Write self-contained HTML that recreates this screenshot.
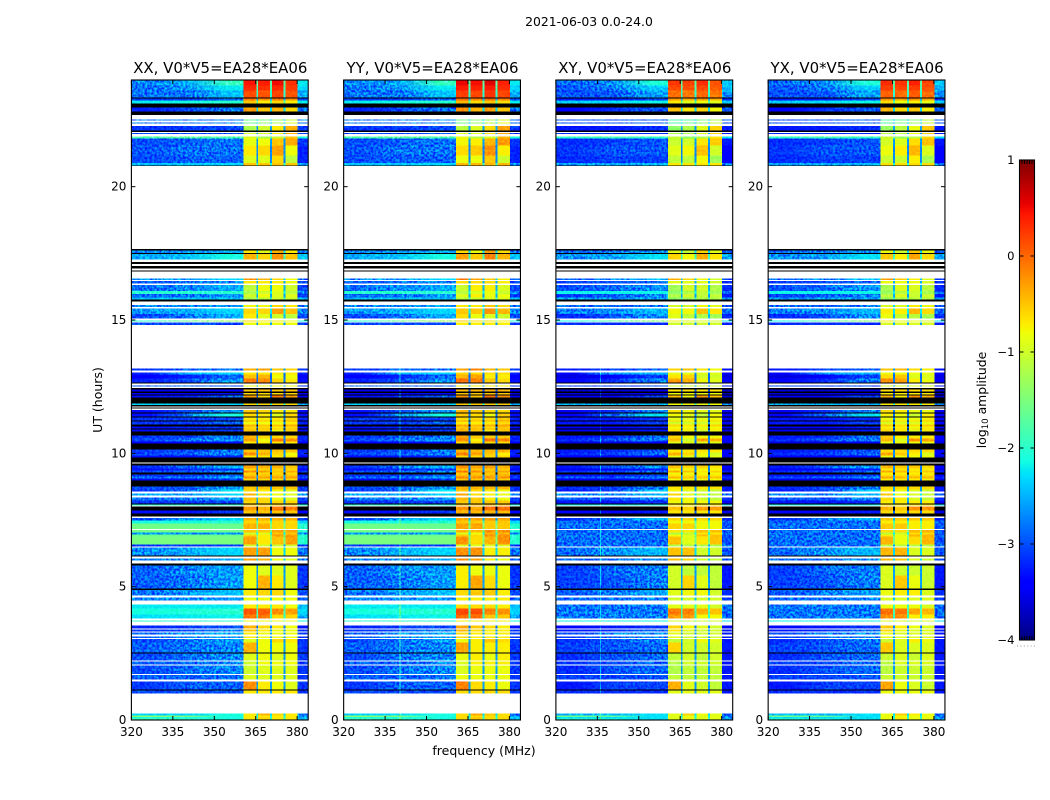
<!DOCTYPE html>
<html lang="en">
<head>
<meta charset="utf-8">
<title>2021-06-03 0.0-24.0</title>
<style>
html,body{margin:0;padding:0;background:#fff;width:1050px;height:800px;overflow:hidden}
svg{display:block}
text{font-family:"DejaVu Sans","Liberation Sans",sans-serif;fill:#000}
.speckle{mix-blend-mode:overlay}
</style>
</head>
<body>
<svg id="chart" xmlns="http://www.w3.org/2000/svg" width="1050" height="800" viewBox="0 0 1050 800">
<rect x="0" y="0" width="1050" height="800" fill="#fff"/>
<defs id="chart-defs">
<filter id="speckle-0" x="0" y="0" width="100%" height="100%" color-interpolation-filters="sRGB"><feTurbulence type="fractalNoise" baseFrequency="0.42" numOctaves="2" seed="3"/><feColorMatrix type="matrix" values="2.4 0 0 0 -0.7  2.4 0 0 0 -0.7  2.4 0 0 0 -0.7  0 0 0 0 1"/></filter>
<filter id="speckle-1" x="0" y="0" width="100%" height="100%" color-interpolation-filters="sRGB"><feTurbulence type="fractalNoise" baseFrequency="0.42" numOctaves="2" seed="11"/><feColorMatrix type="matrix" values="2.4 0 0 0 -0.7  2.4 0 0 0 -0.7  2.4 0 0 0 -0.7  0 0 0 0 1"/></filter>
<filter id="speckle-2" x="0" y="0" width="100%" height="100%" color-interpolation-filters="sRGB"><feTurbulence type="fractalNoise" baseFrequency="0.42" numOctaves="2" seed="23"/><feColorMatrix type="matrix" values="2.4 0 0 0 -0.7  2.4 0 0 0 -0.7  2.4 0 0 0 -0.7  0 0 0 0 1"/></filter>
<filter id="speckle-3" x="0" y="0" width="100%" height="100%" color-interpolation-filters="sRGB"><feTurbulence type="fractalNoise" baseFrequency="0.42" numOctaves="2" seed="37"/><feColorMatrix type="matrix" values="2.4 0 0 0 -0.7  2.4 0 0 0 -0.7  2.4 0 0 0 -0.7  0 0 0 0 1"/></filter>
</defs>
<text x="589" y="26" text-anchor="middle" font-size="12.4">2021-06-03 0.0-24.0</text>
<text x="484" y="755" text-anchor="middle" font-size="12.5">frequency (MHz)</text>
<text transform="translate(102,400) rotate(-90)" text-anchor="middle" font-size="12.5">UT (hours)</text>
<text transform="translate(986,400) rotate(-90)" text-anchor="middle" font-size="12.4">log<tspan font-size="8.6" dy="2">10</tspan><tspan dy="-2"> amplitude</tspan></text>
</svg>
<script>
// Panel labels and axis ticks
const panelTitles = ["XX, V0*V5=EA28*EA06", "YY, V0*V5=EA28*EA06", "XY, V0*V5=EA28*EA06", "YX, V0*V5=EA28*EA06"];
const freqTicks = [320, 335, 350, 365, 380];
const utTicks = [0, 5, 10, 15, 20];
const colorbarTicks = [1, 0, -1, -2, -3, -4];

// Frequency bin edges (MHz) for the columns of the waterfall
const freqEdges = [320, 334, 348, 360.6, 365.2, 365.9, 370.2, 370.9, 375, 375.7, 380.2, 384];

// Per-polarisation level offsets (log10 amplitude)
const panelBackgroundOffset = [-0.12, -0.12, -0.27, -0.27];
const panelBandOffset = [0, 0.08, -0.18, -0.12];

// Time spans where the cross hands have their own background level: [fromUT, toUT, level]
const crossBackground = [[6.5, 7.5, -2.85], [3.81, 4.33, -2.8]];

// Narrow interference channels: [panel index, frequency MHz, level above background]
const rfiLines = [[1, 340.3, 0.8], [2, 336, 0.5]];

// Waterfall rows top to bottom: [bottom UT, bg-low, bg-mid, bg-high, band1, band2, band3, band4, high-edge]
// A row with only [bottom UT] has no data (white); level -9 is zero amplitude (black).
const waterfallRows = [
[23.8,-2.6,-2.4,-1.8,.45,.4,.5,.3,-2.1],
[23.605,-2.7,-2.5,-2.1,.35,.3,.35,.25,-2.2],
[23.34,-2.7,-2.7,-2.3,.15,.1,.2,.1,-2.4],
[23.305,-9,-9,-9,-9,-9,-9,-9,-9],
[23.23,-3,-3,-2.8,-.1,-.2,-.1,-.2,-2.9],
[23.12,-2.1,-2,-1.9,-.5,-.7,-.6,-.7,-2.1],
[22.97,-9,-9,-9,-9,-9,-9,-9,-9],
[22.82,-3.1,-2.9,-2.7,-.3,-.5,-.4,-.6,-2.7],
[22.69,-9,-9,-9,-9,-9,-9,-9,-9],
[22.52],
[22.48,-2.7,-2.7,-2.7,-1.6,-1.5,-1.3,-1,-2.7],
[22.4],
[22.37,-2.7,-2.7,-2.6,-1.6,-1.4,-1.2,-.9,-2.7],
[22.27],
[22.11,-3,-3,-2.9,-1.2,-1,-.7,-.4,-3],
[22.05,-9,-9,-9,-9,-9,-9,-9,-9],
[22.01],
[21.97,-2.9,-2.9,-2.9,-1,-1,-.7,-.4,-3],
[21.88],
[21.81,-1.7,-1.6,-1.7,-.9,-1.2,-1,-.5,-2],
[21.54,-2.9,-2.8,-2.7,-.85,-.8,-.5,-.35,-3],
[21.16,-2.85,-2.7,-2.7,-.7,-.6,-.3,-.8,-3.1],
[20.88,-2.9,-2.8,-2.8,-.9,-.9,-.6,-1.1,-3.1],
[20.8,-2.3,-2.3,-2.2,-.5,-.5,-.5,-.5,-2.5],
[20.77,-9,-9,-9,-9,-9,-9,-9,-9],
[17.66],
[17.605,-9,-9,-9,-9,-9,-9,-9,-9],
[17.52,-2.6,-2.5,-2.4,-.7,-.9,-.4,-.7,-2.7],
[17.48,-9,-9,-9,-9,-9,-9,-9,-9],
[17.27,-2.4,-2.3,-2,-.4,-.6,-.2,-.5,-2.3],
[17.17],
[17.1,-9,-9,-9,-9,-9,-9,-9,-9],
[17.02],
[16.93,-9,-9,-9,-9,-9,-9,-9,-9],
[16.85],
[16.82,-9,-9,-9,-9,-9,-9,-9,-9],
[16.555],
[16.5,-2.6,-2.5,-2.2,-.2,-.4,-.6,-.8,-2.8],
[16.46],
[16.37,-2.8,-2.7,-2.6,-.7,-.7,-.7,-.8,-2.9],
[16.32],
[16.09,-2.7,-2.6,-2.4,-1.1,-.8,-.8,-1,-2.9],
[15.97,-1.9,-1.9,-1.9,-1.2,-1,-.9,-1.1,-2.6],
[15.84,-2.8,-2.7,-2.5,-1,-.8,-.9,-.9,-3],
[15.77,-2.3,-2.3,-2.3,-1.2,-1.1,-1,-1,-2.3],
[15.69,-9,-9,-9,-9,-9,-9,-9,-9],
[15.57],
[15.49,-2.6,-2.6,-2.5,-.8,-.8,-.6,-.7,-2.7],
[15.44],
[15.22,-2.5,-2.4,-2.2,-.6,-.6,-.3,-.5,-2.6],
[15.05,-2.9,-2.7,-2.4,-.7,-.9,-1,-1.1,-2.9],
[14.99],
[14.94,-1.9,-1.5,-1.2,-.6,-.7,-.7,-.8,-2],
[14.9],
[14.81,-2.9,-2.9,-2.9,-.8,-.8,-.8,-.8,-3],
[13.18],
[13.11,-3,-2.8,-2.7,-.4,-.3,-.5,-.6,-3],
[13.04],
[12.96,-3.1,-2.3,-2.2,-.7,-.7,-.7,-.7,-3.1],
[12.8,-3.3,-3.1,-2.8,-.5,-.4,-.8,-.8,-3.3],
[12.65,-3.1,-2.9,-2.5,-.1,-.2,-.6,-.7,-3.2],
[12.62,-9,-9,-9,-9,-9,-9,-9,-9],
[12.54],
[12.5,-2.8,-2.8,-2.8,-.8,-.8,-.8,-.8,-3],
[12.45],
[12.39,-9,-9,-9,-9,-9,-9,-9,-9],
[12.32,-3.4,-3.4,-3.3,-.5,-.5,-.5,-.5,-3.4],
[12.26,-9,-9,-9,-9,-9,-9,-9,-9],
[12.2,-3.3,-3.3,-3.2,-.6,-.6,-.6,-.6,-3.4],
[12.17,-9,-9,-9,-9,-9,-9,-9,-9],
[12.09,-3.2,-3.1,-2.8,-.3,-.6,-.1,-.3,-3.4],
[11.87,-9,-9,-9,-9,-9,-9,-9,-9],
[11.81,-2.2,-2.2,-2.2,-.6,-.6,-.6,-.6,-2.4],
[11.76,-9,-9,-9,-9,-9,-9,-9,-9],
[11.72],
[11.68,-9,-9,-9,-9,-9,-9,-9,-9],
[11.62],
[11.53,-3.2,-2.9,-2.5,-.5,-.6,-.7,-.7,-3.2],
[11.49,-9,-9,-9,-9,-9,-9,-9,-9],
[11.38,-3.2,-2.6,-2,-.6,-.7,-.9,-.6,-3.2],
[11.34,-9,-9,-9,-9,-9,-9,-9,-9],
[11.23,-3,-3,-2.9,-.7,-.7,-.7,-.6,-3.1],
[11.19,-9,-9,-9,-.4,-.5,-.5,-.4,-9],
[11.08,-3,-3,-2.8,-.8,-.8,-.8,-.7,-3.1],
[11,-9,-9,-9,-.4,-.5,-.5,-.4,-9],
[10.93,-3.2,-3.1,-3,-.6,-.6,-.7,-.6,-3.2],
[10.89,-9,-9,-9,-.5,-.5,-.5,-.5,-9],
[10.82,-3.2,-3.1,-3,-.5,-.6,-.8,-.6,-3.2],
[10.67,-9,-9,-9,-9,-9,-9,-9,-9],
[10.56,-3,-2.9,-2.6,-.4,-.6,-.6,-.6,-3.1],
[10.44,-2.9,-2.7,-2.5,-.3,-.8,-.1,-.2,-3.1],
[10.37,-3.3,-3.3,-3.2,-.7,-.7,-.7,-.7,-3.3],
[10.14,-9,-9,-9,-9,-9,-9,-9,-9],
[10.03,-3,-2.9,-2.7,-.5,-.5,-.5,-.5,-3.1],
[9.92,-2.9,-2.8,-2.6,-.2,-.4,-.6,-.8,-3.1],
[9.84,-3.2,-3.2,-3.1,-.7,-.7,-.7,-.7,-3.3],
[9.66,-9,-9,-9,-9,-9,-9,-9,-9],
[9.62],
[9.54,-9,-9,-9,-9,-9,-9,-9,-9],
[9.43,-3,-2.7,-2.4,-.3,-.4,-.4,-.5,-3.1],
[9.35,-3.2,-3.1,-3,-.6,-.6,-.6,-.6,-3.3],
[9.28,-2.9,-2.8,-2.6,-.2,-.3,-.5,-.4,-3],
[9.2,-9,-9,-9,-.6,-.6,-.6,-.6,-9],
[9.13,-3,-3,-2.8,-.5,-.5,-.5,-.5,-3.1],
[9.06,-2.7,-2.7,-2.4,-.2,-.3,-.3,-.3,-2.9],
[8.98,-3.2,-3.2,-3,-.6,-.6,-.6,-.6,-3.3],
[8.76,-9,-9,-9,-9,-9,-9,-9,-9],
[8.64,-2.9,-2.8,-2.5,-.5,-.5,-.5,-.5,-3],
[8.57,-3,-2.8,-2.1,-.6,-.7,-.8,-.9,-3],
[8.49],
[8.42,-2.4,-2.5,-2.2,-.4,-.7,-.8,-.9,-2.6],
[8.34],
[8.23,-2.7,-2.7,-2.5,-.5,-.6,-.8,-.9,-2.9],
[8.12,-3,-3,-2.9,-.6,-.6,-.6,-.6,-3.1],
[8.08,-9,-9,-9,-9,-9,-9,-9,-9],
[8.04,-1.9,-1.9,-1.9,-.5,-.5,-.5,-.5,-2],
[8],
[7.85,-9,-9,-9,-.3,-.4,-.1,-.1,-9],
[7.74,-3.2,-3.2,-3,-.5,-.5,-.5,-.5,-3.3],
[7.63,-9,-9,-9,-9,-9,-9,-9,-9],
[7.57],
[7.48,-2.9,-2.5,-2.2,-.4,-.4,-.4,-.4,-2.9],
[7.37,-2,-2,-1.9,-.6,-.6,-.6,-.6,-2.2],
[7.16,-1.45,-1.45,-1.5,-.4,-.4,-.6,-.6,-1.9],
[7.12],
[7.03,-1.45,-1.45,-1.5,-.5,-.5,-.3,-.3,-1.9],
[6.95,-2.5,-2.5,-2.5,-1,-.9,-.5,-.5,-2.6],
[6.88,-1.5,-1.5,-1.5,-.6,-.7,-.3,-.3,-1.9],
[6.58,-1.4,-1.4,-1.4,-.3,-.7,-.5,-.3,-1.9],
[6.51,-3,-3,-3,-1,-1,-1,-1,-3],
[6.47],
[6.17,-2.6,-2.4,-2.2,-.3,-.3,-.8,-.8,-2.7],
[6.13,-9,-9,-9,-9,-9,-9,-9,-9],
[6.05],
[5.98,-2.6,-2.6,-2.4,-.3,-.4,-.8,-.9,-2.7],
[5.87],
[5.79,-9,-9,-9,-9,-9,-9,-9,-9],
[5.42,-2.8,-2.6,-2.5,-.8,-.9,-.9,-.9,-3],
[4.93,-2.8,-2.7,-2.5,-.8,-.4,-.7,-.9,-3],
[4.87,-9,-9,-9,-9,-9,-9,-9,-9],
[4.67,-2.7,-2.5,-2.3,-.7,-.6,-.6,-.8,-2.9],
[4.59],
[4.48,-2.6,-2.6,-2.5,-.8,-.8,-.8,-.8,-2.8],
[4.33],
[4.18,-2.1,-2.1,-2.1,-.7,-.7,-.7,-.8,-2.3],
[3.96,-2,-1.95,-1.9,.1,.05,-.2,-.3,-2.2],
[3.81,-2.15,-2.1,-2.05,-.1,-.1,-.6,-.6,-2.4],
[3.73],
[3.69,-1.9,-1.9,-1.9,-.8,-.8,-.8,-.8,-2],
[3.54],
[3.43,-3.1,-3,-2.9,-.4,-.6,-.7,-.8,-3.2],
[3.39],
[3.32,-3,-2.9,-2.6,-.5,-.7,-.8,-.8,-3],
[3.28],
[3.2,-2.8,-2.5,-2.4,-.7,-.8,-.8,-.8,-3],
[3.13],
[3.07,-2.8,-2.6,-2.5,-.7,-.8,-.8,-.8,-3],
[3.03],
[2.91,-2.9,-2.7,-2.5,-.9,-.8,-.6,-.7,-3],
[2.53,-2.8,-2.7,-2.6,-.4,-.8,-.8,-.8,-3],
[2.49,-9,-9,-9,-9,-9,-9,-9,-9],
[2.23,-2.9,-2.7,-2.6,-.9,-.8,-.9,-.8,-3],
[2.19],
[2.08,-2.8,-2.8,-2.6,-1,-.8,-.8,-.8,-3],
[2.04],
[1.72,-2.9,-2.7,-2.6,-1,-.9,-.9,-.9,-3],
[1.69],
[1.52,-2.8,-2.8,-2.7,-.9,-.9,-.9,-.9,-3],
[1.44],
[1.14,-3,-2.8,-2.8,-.2,-.7,-.8,-.9,-3],
[1.11,-9,-9,-9,-9,-9,-9,-9,-9],
[1,-2.9,-2.9,-2.9,-.7,-.7,-.7,-.7,-3],
[.24],
[.17,-2.2,-2.2,-2,-.7,-.4,-.6,-.7,-2.7],
[.11,-1.3,-1.4,-2,-.7,-.7,-.7,-.7,-2.5],
[.06,-2,-2,-2,-.7,-.6,-.7,-.7,-2.4],
[0,-1.7,-1.8,-2,-.7,-.6,-.7,-.7,-2.3]
];

const NS = "http://www.w3.org/2000/svg";
const chart = document.getElementById("chart");
const defs = document.getElementById("chart-defs");
const PLOT = {left: 131.4, step: 212.25, width: 176.8, top: 80, bottom: 720};
const CBAR = {left: 1019.5, right: 1034.5, top: 160, bottom: 640};
const FREQ_MIN = 320, FREQ_MAX = 384, UT_MIN = 0, UT_MAX = 24, AMP_MIN = -4, AMP_MAX = 1;
const SMOOTH_LEVEL = -1.6;

function xScale(freq, panel) {
  return PLOT.left + panel * PLOT.step + (freq - FREQ_MIN) / (FREQ_MAX - FREQ_MIN) * PLOT.width;
}
function yScale(ut) {
  return PLOT.bottom - (ut - UT_MIN) / (UT_MAX - UT_MIN) * (PLOT.bottom - PLOT.top);
}
function ampScale(v) {
  return CBAR.bottom - (v - AMP_MIN) / (AMP_MAX - AMP_MIN) * (CBAR.bottom - CBAR.top);
}
function seg(t, pts) {
  for (let i = 1; i < pts.length; i++) {
    if (t <= pts[i][0]) {
      const a = pts[i - 1], b = pts[i];
      return a[1] + (b[1] - a[1]) * (t - a[0]) / (b[0] - a[0]);
    }
  }
  return pts[pts.length - 1][1];
}
function jet(t) {
  t = Math.max(0, Math.min(1, t));
  const r = seg(t, [[0,0],[.35,0],[.66,1],[.89,1],[1,.5]]);
  const g = seg(t, [[0,0],[.125,0],[.375,1],[.64,1],[.91,0],[1,0]]);
  const b = seg(t, [[0,.5],[.11,1],[.34,1],[.65,0],[1,0]]);
  return "rgb(" + Math.round(r * 255) + "," + Math.round(g * 255) + "," + Math.round(b * 255) + ")";
}
function ampColor(v) {
  if (v <= -8) return "#000";
  return jet((v - AMP_MIN) / (AMP_MAX - AMP_MIN));
}
function svgEl(tag, attrs, parent) {
  const el = document.createElementNS(NS, tag);
  for (const k in attrs) el.setAttribute(k, attrs[k]);
  parent.appendChild(el);
  return el;
}
function fmt(v) { return v < 0 ? "\u2212" + Math.abs(v) : String(v); }

// Map the 11 frequency columns to row fields: low/mid/high background, bands, gaps, edge
function columnLevel(row, col, panel, ut) {
  const cross = panel >= 2;
  const edge = row[8];
  const bandOff = panelBandOffset[panel];
  const bgOff = panelBackgroundOffset[panel];
  function bg(v) {
    if (v <= -8) return v;
    if (cross) {
      for (const c of crossBackground) {
        if (ut > c[0] && ut <= c[1]) return c[2] + (v - row[1]) * 0.3;
      }
    }
    return v + bgOff;
  }
  function band(v) { return v <= -8 ? v : v + bandOff; }
  function gap() { return edge <= -8 ? edge : edge + 0.4; }
  switch (col) {
    case 0: return bg(row[1]);
    case 1: return bg(row[2]);
    case 2: return bg(row[3]);
    case 3: return band(row[4]);
    case 4: return gap();
    case 5: return band(row[5]);
    case 6: return gap();
    case 7: return band(row[6]);
    case 8: return gap();
    case 9: return band(row[7]);
    default: return bg(edge);
  }
}

panelTitles.forEach(function (title, p) {
  const g = document.createElementNS(NS, "g");
  
  
  chart.appendChild(g);

  function drawBackgroundCell(row, r, top, bottom) {
    const mid = (top + bottom) / 2;
    const gradId = "bg-" + p + "-" + r;
    if (!document.getElementById(gradId)) {
      const grad = svgEl("linearGradient", {id: gradId, x1: 0, x2: 1, y1: 0, y2: 0}, defs);
      const span = freqEdges[3] - freqEdges[0];
      for (let c = 0; c < 3; c++) {
        svgEl("stop", {
          offset: ((freqEdges[c] + freqEdges[c + 1]) / 2 - freqEdges[0]) / span,
          "stop-color": ampColor(columnLevel(row, c, p, mid))
        }, grad);
      }
    }
    const bgCell = svgEl("rect", {
      x: xScale(freqEdges[0], p).toFixed(2), y: yScale(top).toFixed(2),
      width: (xScale(freqEdges[3], p) - xScale(freqEdges[0], p)).toFixed(2),
      height: (yScale(bottom) - yScale(top)).toFixed(2),
      fill: "url(#" + gradId + ")", "shape-rendering": "crispEdges"
    }, g);
    
    
  }

  let top = UT_MAX;
  const smoothCells = [];
  waterfallRows.forEach(function (row, r) {
    const bottom = row[0];
    if (row.length > 1) {
      const mid = (top + bottom) / 2;
      const yTop = yScale(top).toFixed(2);
      const rowH = (yScale(bottom) - yScale(top)).toFixed(2);

      drawBackgroundCell(row, r, top, bottom);
      if (row[1] > SMOOTH_LEVEL && columnLevel(row, 0, p, mid) > SMOOTH_LEVEL - 0.2) {
        smoothCells.push([row, r, top, bottom]);
      }

      for (let c = 3; c < freqEdges.length - 1; c++) {
        const cell = svgEl("rect", {
          x: xScale(freqEdges[c], p).toFixed(2), y: yTop,
          width: (xScale(freqEdges[c + 1], p) - xScale(freqEdges[c], p)).toFixed(2), height: rowH,
          fill: ampColor(columnLevel(row, c, p, mid)), "shape-rendering": "crispEdges"
        }, g);
        
        
      }

      rfiLines.forEach(function (rfi) {
        if (rfi[0] !== p || row[1] <= -8 || bottom > 13.2) return;
        const line = svgEl("rect", {
          x: xScale(rfi[1], p).toFixed(2), y: yTop, width: 1, height: rowH,
          fill: ampColor(columnLevel(row, 1, p, mid) + rfi[2]), "shape-rendering": "crispEdges"
        }, g);
        
        
      });
    }
    top = bottom;
  });

  // Fine pixel grain over the waterfall (white and black rows are unaffected by overlay blending)
  const grainLeft = xScale(FREQ_MIN, p);
  const bandLeft = xScale(freqEdges[3], p);
  const edgeLeft = xScale(freqEdges[10], p);
  const plotRight = xScale(FREQ_MAX, p);
  [[grainLeft, bandLeft, 0.7], [bandLeft, edgeLeft, 0.2], [edgeLeft, plotRight, 0.7]].forEach(function (z) {
    const grain = svgEl("rect", {
      x: z[0].toFixed(2), y: PLOT.top, width: (z[1] - z[0]).toFixed(2), height: PLOT.bottom - PLOT.top,
      fill: "#808080", filter: "url(#speckle-" + p + ")", opacity: z[2], "class": "speckle"
    }, g);
    
    
  });

  // Strong flat-continuum rows stay smooth, so they are drawn above the grain
  smoothCells.forEach(function (c) { drawBackgroundCell(c[0], c[1], c[2], c[3]); });

  const frame = svgEl("rect", {
    x: xScale(FREQ_MIN, p), y: PLOT.top, width: PLOT.width, height: PLOT.bottom - PLOT.top,
    fill: "none", stroke: "#000", "stroke-width": 1.1
  }, g);
  
  

  freqTicks.forEach(function (f) {
    const x = xScale(f, p);
    [[PLOT.bottom, PLOT.bottom - 4], [PLOT.top, PLOT.top + 4]].forEach(function (pair) {
      const t = svgEl("line", {x1: x, x2: x, y1: pair[0], y2: pair[1], stroke: "#000", "stroke-width": 1}, g);
      
      
    });
    const lab = svgEl("text", {x: x, y: 736, "text-anchor": "middle", "font-size": 12}, g);
    lab.textContent = f;
    
    
  });

  utTicks.forEach(function (u) {
    const y = yScale(u);
    const l = xScale(FREQ_MIN, p), r = xScale(FREQ_MAX, p);
    [[l, l + 4], [r, r - 4]].forEach(function (pair) {
      const t = svgEl("line", {x1: pair[0], x2: pair[1], y1: y, y2: y, stroke: "#000", "stroke-width": 1}, g);
      
      
    });
    const lab = svgEl("text", {x: l - 5, y: y + 4, "text-anchor": "end", "font-size": 12}, g);
    lab.textContent = u;
    
    
  });

  const ttl = svgEl("text", {
    x: xScale(FREQ_MIN, p) + PLOT.width / 2 + 0.5, y: 73, "text-anchor": "middle", "font-size": 14.95
  }, g);
  ttl.textContent = title;
  
  
});

// Colorbar
const cbar = document.createElementNS(NS, "g");


chart.appendChild(cbar);
const STEPS = 256;
for (let i = 0; i < STEPS; i++) {
  const lo = AMP_MIN + (AMP_MAX - AMP_MIN) * i / STEPS;
  const hi = AMP_MIN + (AMP_MAX - AMP_MIN) * (i + 1) / STEPS;
  const s = svgEl("rect", {
    x: CBAR.left, y: ampScale(hi).toFixed(2), width: CBAR.right - CBAR.left,
    height: (ampScale(lo) - ampScale(hi) + 0.4).toFixed(2),
    fill: jet((i + 0.5) / STEPS), "shape-rendering": "crispEdges"
  }, cbar);
  
  
}
const cframe = svgEl("rect", {
  x: CBAR.left, y: CBAR.top, width: CBAR.right - CBAR.left, height: CBAR.bottom - CBAR.top,
  fill: "none", stroke: "#000", "stroke-width": 1.1
}, cbar);


colorbarTicks.forEach(function (v) {
  const y = ampScale(v);
  [[CBAR.left, CBAR.left + 4], [CBAR.right, CBAR.right - 4]].forEach(function (pair) {
    const t = svgEl("line", {x1: pair[0], x2: pair[1], y1: y, y2: y, stroke: "#000", "stroke-width": 1}, cbar);
    
    
  });
  const lab = svgEl("text", {x: CBAR.left - 5, y: y + 4, "text-anchor": "end", "font-size": 11.6}, cbar);
  lab.textContent = fmt(v);
  
  
});
for (let i = 1; i <= 5; i++) {
  const x = CBAR.left + i * (CBAR.right - CBAR.left) / 6;
  [[CBAR.top, CBAR.top + 4], [CBAR.bottom, CBAR.bottom - 4]].forEach(function (pair) {
    const t = svgEl("line", {x1: x, x2: x, y1: pair[0], y2: pair[1], stroke: "#000", "stroke-width": 1}, cbar);
    
    
  });
}
const dots = svgEl("line", {
  x1: 1017, x2: 1035, y1: 646, y2: 646, stroke: "#999", "stroke-width": 1, "stroke-dasharray": "1 2.4"
}, cbar);


</script>
</body>
</html>
